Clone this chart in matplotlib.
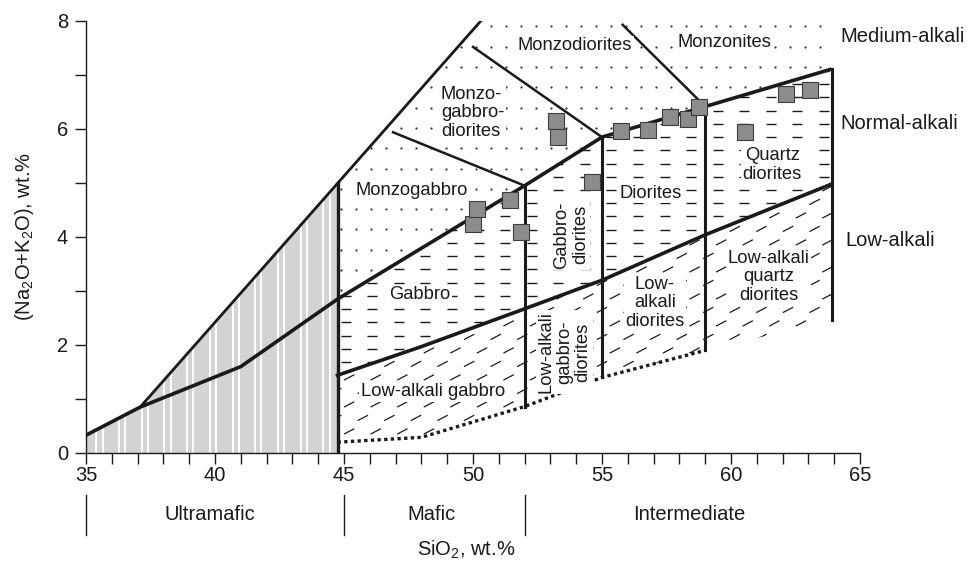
import matplotlib.pyplot as plt
import numpy as np
from matplotlib.patches import Polygon
from matplotlib.collections import LineCollection

plt.rcParams['font.family'] = ['Liberation Sans', 'DejaVu Sans']
plt.rcParams['mathtext.fontset'] = 'custom'
plt.rcParams['mathtext.rm'] = 'Liberation Sans'
plt.rcParams['mathtext.it'] = 'Liberation Sans:italic'

# --- field boundaries (SiO2, Na2O+K2O) ---
upper_x = [35.0, 37.1, 41.0, 44.75, 52.0, 55.0, 63.9]     # normal / medium alkali
upper_y = [0.33, 0.85, 1.6, 2.85, 4.95, 5.85, 7.11]
steep_x = [37.1, 50.3]                                      # ultramafic upper limit
steep_y = [0.85, 8.0]
low_x = [44.75, 48.0, 52.0, 55.0, 59.0, 63.9]               # low / normal alkali
low_y = [1.44, 1.97, 2.67, 3.2, 4.04, 4.98]
dot_x = [44.75, 48.0, 52.0, 55.0, 59.0]                     # lower (dotted) limit
dot_y = [0.2, 0.29, 0.86, 1.4, 1.9]
right_x, right_bottom = 63.9, 2.46
vert_x = [52.0, 55.0, 59.0]
mafic_x = 44.75
# monzonitic dividers: start point, end on the upper boundary
div_x0 = [46.9, 50.0, 55.8]
div_y0 = [5.94, 7.52, 7.93]
div_x1 = [52.0, 55.0, 59.0]

# --- samples ---
sio2 = [50.0, 50.15, 51.45, 51.85, 53.2, 53.3, 54.6, 55.75, 56.8,
        57.65, 58.35, 58.75, 60.55, 62.15, 63.05]
alk = [4.24, 4.51, 4.69, 4.09, 6.15, 5.85, 5.02, 5.96, 5.98,
       6.22, 6.19, 6.41, 5.95, 6.64, 6.72]

# --- labels ---
field_names = ["Monzodiorites", "Monzonites", "Monzo-\ngabbro-\ndiorites", "Monzogabbro",
               "Gabbro", "Low-alkali gabbro", "Diorites", "Quartz\ndiorites",
               "Low-\nalkali\ndiorites", "Low-alkali\nquartz\ndiorites"]
field_x = [53.95, 59.75, 48.75, 45.45, 47.95, 48.45, 56.9, 61.6, 57.05, 61.45]
field_y = [7.54, 7.6, 6.3, 4.87, 2.93, 1.13, 4.81, 5.33, 2.78, 3.26]
field_ha = ["center", "center", "left", "left", "center", "center", "center",
            "center", "center", "center"]
rot_names = ["Gabbro-\ndiorites", "Low-alkali\ngabbro-\ndiorites"]
rot_x = [53.8, 53.55]
rot_y = [4.04, 1.87]
series_names = ["Medium-alkali", "Normal-alkali", "Low-alkali"]
series_x = [64.22, 64.22, 64.42]
series_y = [7.72, 6.1, 3.94]
class_names = ["Ultramafic", "Mafic", "Intermediate"]
class_x = [39.8, 48.4, 58.4]
class_bounds = [35, 45, 52]

fig = plt.figure(figsize=(9.72, 5.64), dpi=100)
ax = fig.add_axes([86 / 972, 111 / 564, 774 / 972, 432 / 564])
ax.set_xlim(35, 65)
ax.set_ylim(0, 8)

ink = '#1a1a1a'

def up(x):
    return np.interp(x, upper_x, upper_y)

def dt(x):
    return np.interp(x, dot_x, dot_y)

steep_at_mafic = np.interp(mafic_x, steep_x, steep_y)

# --- region polygons used for textures ---
ux = [x for x in upper_x if x >= mafic_x]
grey_poly = [(35, 0), (35, upper_y[0]), (steep_x[0], steep_y[0]),
             (mafic_x, steep_at_mafic), (mafic_x, 0)]
med_poly = [(x, up(x)) for x in ux] + [(right_x, 8.0), (steep_x[1], 8.0),
                                       (mafic_x, steep_at_mafic)]
norm_poly = [(x, up(x)) for x in ux] + [(x, y) for x, y in zip(low_x[::-1], low_y[::-1])]
low_poly = [(x, y) for x, y in zip(low_x, low_y)] + [(right_x, right_bottom)] + \
           [(x, y) for x, y in zip(dot_x[::-1], dot_y[::-1])]

def clip_patch(pts):
    p = Polygon(pts, closed=True, fc='none', ec='none')
    ax.add_patch(p)
    return p

# grey ultramafic field with white stripes
ax.add_patch(Polygon(grey_poly, closed=True, fc='#d3d3d3', ec='none', zorder=1))
gp = clip_patch(grey_poly)
sx = np.arange(35.4, 44.6, 0.88)
stripes = [[(x, 0), (x, 6)] for x in sx] + [[(x + 0.24, 0), (x + 0.24, 6)] for x in sx]
lc = LineCollection(stripes, colors='white', linewidths=1.4, zorder=1.5)
lc.set_clip_path(gp)
ax.add_collection(lc)

# dotted texture (medium alkali)
mp = clip_patch(med_poly)
gx, gy = np.meshgrid(np.arange(44.9, 64.0, 0.58), np.arange(7.9, 2.5, -0.376))
dots, = ax.plot(gx.ravel(), gy.ravel(), 'o', ms=1.6, color='#333333', mec='none', zorder=1.5)
dots.set_clip_path(mp)

# horizontal dashes (normal alkali)
npp = clip_patch(norm_poly)
segs = []
for yy in np.arange(7.32, 1.2, -0.245):
    for xx in np.arange(44.87, 64.5, 1.03):
        segs.append([(xx, yy), (xx + 0.39, yy)])
lc = LineCollection(segs, colors=ink, linewidths=1.0, zorder=1.5)
lc.set_clip_path(npp)
ax.add_collection(lc)

# slanted dashes (low alkali)
lp = clip_patch(low_poly)
segs = []
for i, yy in enumerate(np.arange(0.1, 5.2, 0.25)):
    off = (i % 2) * 0.5
    for xx in np.arange(44.5 + off, 64.5, 1.03):
        segs.append([(xx, yy), (xx + 0.4, yy + 0.1)])
lc = LineCollection(segs, colors=ink, linewidths=0.9, zorder=1.5)
lc.set_clip_path(lp)
ax.add_collection(lc)

# --- boundaries ---
ax.plot(upper_x, upper_y, color=ink, lw=2.6, zorder=3, solid_capstyle='butt')
ax.plot(steep_x, steep_y, color=ink, lw=2.0, zorder=3)
ax.plot(low_x, low_y, color=ink, lw=2.6, zorder=3)
ax.plot(dot_x, dot_y, color=ink, lw=2.4, ls=(0, (1, 1)), zorder=3)
ax.plot([mafic_x, mafic_x], [0, steep_at_mafic], color=ink, lw=2.4, zorder=3)
for vx in vert_x:
    ax.plot([vx, vx], [dt(vx), up(vx)], color=ink, lw=2.2, zorder=3)
ax.plot([right_x, right_x], [right_bottom, up(right_x)], color=ink, lw=2.2, zorder=3)
for x0, y0, x1 in zip(div_x0, div_y0, div_x1):
    ax.plot([x0, x1], [y0, up(x1)], color=ink, lw=1.8, zorder=3)

# --- samples ---
ax.plot(sio2, alk, 's', ms=12, mfc='#8c8c8c', mec='#3c3c3c', mew=0.8, zorder=5)

# --- labels ---
box = dict(fc='white', ec='none', pad=1.0)
for name, x, y, ha in zip(field_names, field_x, field_y, field_ha):
    ax.text(x, y, name, fontsize=13.2, ha=ha, va='center', multialignment=ha,
            linespacing=1.12, color=ink, bbox=box, zorder=4)
for name, x, y in zip(rot_names, rot_x, rot_y):
    ax.text(x, y, name, fontsize=13.2, ha='center', va='center', rotation=90,
            linespacing=1.12, color=ink, bbox=box, zorder=4)
for name, x, y in zip(series_names, series_x, series_y):
    ax.text(x, y, name, fontsize=14.5, ha='left', va='center', color=ink, clip_on=False)
for name, x in zip(class_names, class_x):
    ax.text(x, -1.13, name, fontsize=14.5, ha='center', va='center', color=ink, clip_on=False)
for bx in class_bounds:
    ax.plot([bx, bx], [-0.78, -1.52], color=ink, lw=1.0, clip_on=False)

ax.set_xlabel('SiO$_2$, wt.%', fontsize=14.5, color=ink, va='center')
ax.xaxis.set_label_coords(0.491, -0.225)
ax.set_ylabel('(Na$_2$O+K$_2$O), wt.%', fontsize=14.5, color=ink, va='center')
ax.yaxis.set_label_coords(-0.079, 0.5)

# --- axes ---
for s in ['top', 'right']:
    ax.spines[s].set_visible(False)
for s in ['left', 'bottom']:
    ax.spines[s].set_linewidth(1.0)
    ax.spines[s].set_color(ink)
    ax.spines[s].set_zorder(6)
ax.set_xticks(range(35, 66, 5))
ax.set_xticks(range(35, 66), minor=True)
ax.set_yticks(range(0, 9, 2))
ax.set_yticks(range(1, 9, 2), minor=True)
ax.tick_params(axis='both', which='both', direction='out', length=8, width=1.0, colors=ink,
               labelsize=14.5)
ax.tick_params(axis='x', which='both', pad=1.5)
ax.tick_params(axis='y', which='both', pad=5)

fig.savefig('out.png', dpi=100)
